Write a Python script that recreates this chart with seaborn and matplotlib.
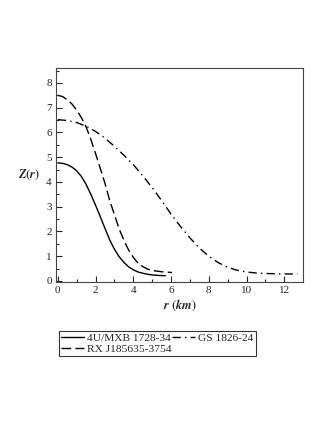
import matplotlib
matplotlib.use("Agg")
import matplotlib.pyplot as plt
import seaborn as sns

# values
r_4u = [0, 0.25, 0.5, 0.75, 1.0, 1.25, 1.5, 1.75, 2.0, 2.25, 2.5, 2.75, 3.0,
        3.25, 3.5, 3.75, 4.0, 4.25, 4.5, 4.75, 5.0, 5.35, 5.7]
z_4u = [4.77, 4.75, 4.70, 4.60, 4.45, 4.22, 3.90, 3.50, 3.06, 2.60, 2.12, 1.66, 1.28,
        0.98, 0.75, 0.57, 0.45, 0.36, 0.31, 0.27, 0.24, 0.22, 0.21]

r_rx = [0, 0.25, 0.5, 0.75, 1.0, 1.25, 1.5, 1.75, 2.0, 2.25, 2.5, 2.75, 3.0,
        3.25, 3.5, 3.75, 4.0, 4.25, 4.5, 4.75, 5.0, 5.5, 6.05]
z_rx = [7.5, 7.45, 7.32, 7.15, 6.9, 6.6, 6.22, 5.72, 5.15, 4.55, 3.94, 3.25, 2.68,
        2.1, 1.65, 1.25, 0.95, 0.72, 0.58, 0.48, 0.42, 0.37, 0.34]

r_gs = [0, 0.5, 1, 1.5, 2, 2.5, 3, 3.5, 4, 4.5, 5, 5.5, 6, 6.5, 7, 7.5, 8,
        8.5, 9, 9.5, 10, 10.5, 11, 11.5, 12, 12.7]
z_gs = [6.52, 6.48, 6.40, 6.25, 6.04, 5.77, 5.44, 5.08, 4.70, 4.25, 3.77, 3.25, 2.70,
        2.20, 1.74, 1.33, 1.0, 0.74, 0.55, 0.43, 0.36, 0.32, 0.30, 0.29, 0.28, 0.28]

labels = ["4U/MXB 1728-34", "RX J185635-3754", "GS 1826-24"]

sns.set_style("ticks")
plt.rcParams['font.family'] = ['Liberation Serif', 'DejaVu Serif']
plt.rcParams['mathtext.fontset'] = 'stix'

fig = plt.figure(figsize=(3.27, 4.23), dpi=100)
ax = fig.add_axes([0.171, 0.333, 0.756, 0.506])

sns.lineplot(x=r_4u, y=z_4u, ax=ax, color="black", lw=1.0, label=labels[0])
sns.lineplot(x=r_rx, y=z_rx, ax=ax, color="black", lw=1.0, label=labels[1],
             linestyle=(0, (7, 3)))
sns.lineplot(x=r_gs, y=z_gs, ax=ax, color="black", lw=1.0, label=labels[2],
             linestyle=(0, (6, 3, 1, 3)))

ax.set_xlim(-0.1, 13.0)
ax.set_ylim(-0.05, 8.6)
ax.set_xticks(range(0, 13, 2))
ax.set_yticks(range(0, 9))
ax.set_xticks([1, 3, 5, 7, 9, 11], minor=True)
ax.set_yticks([i + 0.5 for i in range(0, 9)], minor=True)
ax.tick_params(which="both", direction="in", top=False, right=False,
               labelsize=8, width=0.8, pad=3)
ax.tick_params(which="major", length=4)
ax.tick_params(which="minor", length=2)
for s in ax.spines.values():
    s.set_linewidth(0.8)
    s.set_color("#444444")

ax.set_xlabel(r"$\boldsymbol{r}$ $\mathbf{(}\boldsymbol{km}\mathbf{)}$", fontsize=9, labelpad=2)
ax.set_ylabel(r"$\boldsymbol{Z}\mathbf{(}\boldsymbol{r}\mathbf{)}$", fontsize=9,
              rotation=0, labelpad=12, va="center")

h, l = ax.get_legend_handles_labels()
ax.get_legend().remove()
leg = fig.legend(h, l, ncol=2, loc="upper left", bbox_to_anchor=(0.18, 0.218),
                 fontsize=8.2, frameon=True, fancybox=False, edgecolor="black",
                 handlelength=2.0, handletextpad=0.3, columnspacing=0.0,
                 borderpad=0.2, labelspacing=0.1, borderaxespad=0)
leg.get_frame().set_linewidth(0.8)

fig.savefig("out.png", dpi=100, facecolor="white")
